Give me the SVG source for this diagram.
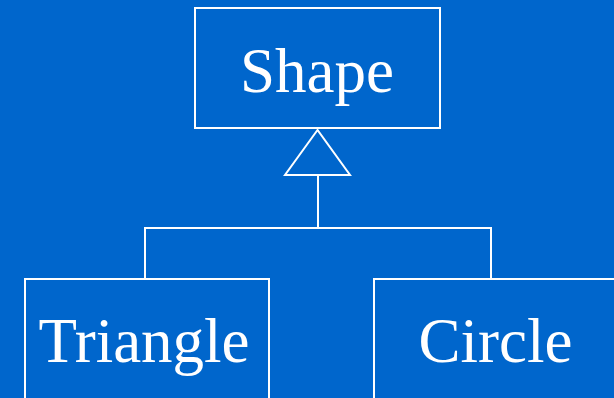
<svg xmlns="http://www.w3.org/2000/svg" width="614" height="398" viewBox="0 0 614 398">
<style>
.box{fill:none;stroke:#fff;stroke-width:2}
.lbl{font-family:"Liberation Serif",serif;font-size:63px;fill:#fff;text-anchor:middle}
.conn{fill:none;stroke:#fff;stroke-width:2}
</style>
<rect width="614" height="398" fill="#0066CC"/>
<g id="shape"><rect class="box" x="195" y="8" width="245" height="120"/><text class="lbl" x="317" y="92">Shape</text></g>
<g id="triangle"><rect class="box" x="25" y="279" width="244" height="130"/><text class="lbl" x="144" y="362">Triangle</text></g>
<g id="circle"><rect class="box" x="374" y="279" width="250" height="130"/><text class="lbl" x="495.5" y="362">Circle</text></g>
<g id="connectors">
<polygon class="conn" points="317.5,130 285,175 350,175"/>
<polyline class="conn" points="318,175 318,228"/>
<polyline class="conn" points="145,279 145,228 491,228 491,279"/>
</g>
</svg>
